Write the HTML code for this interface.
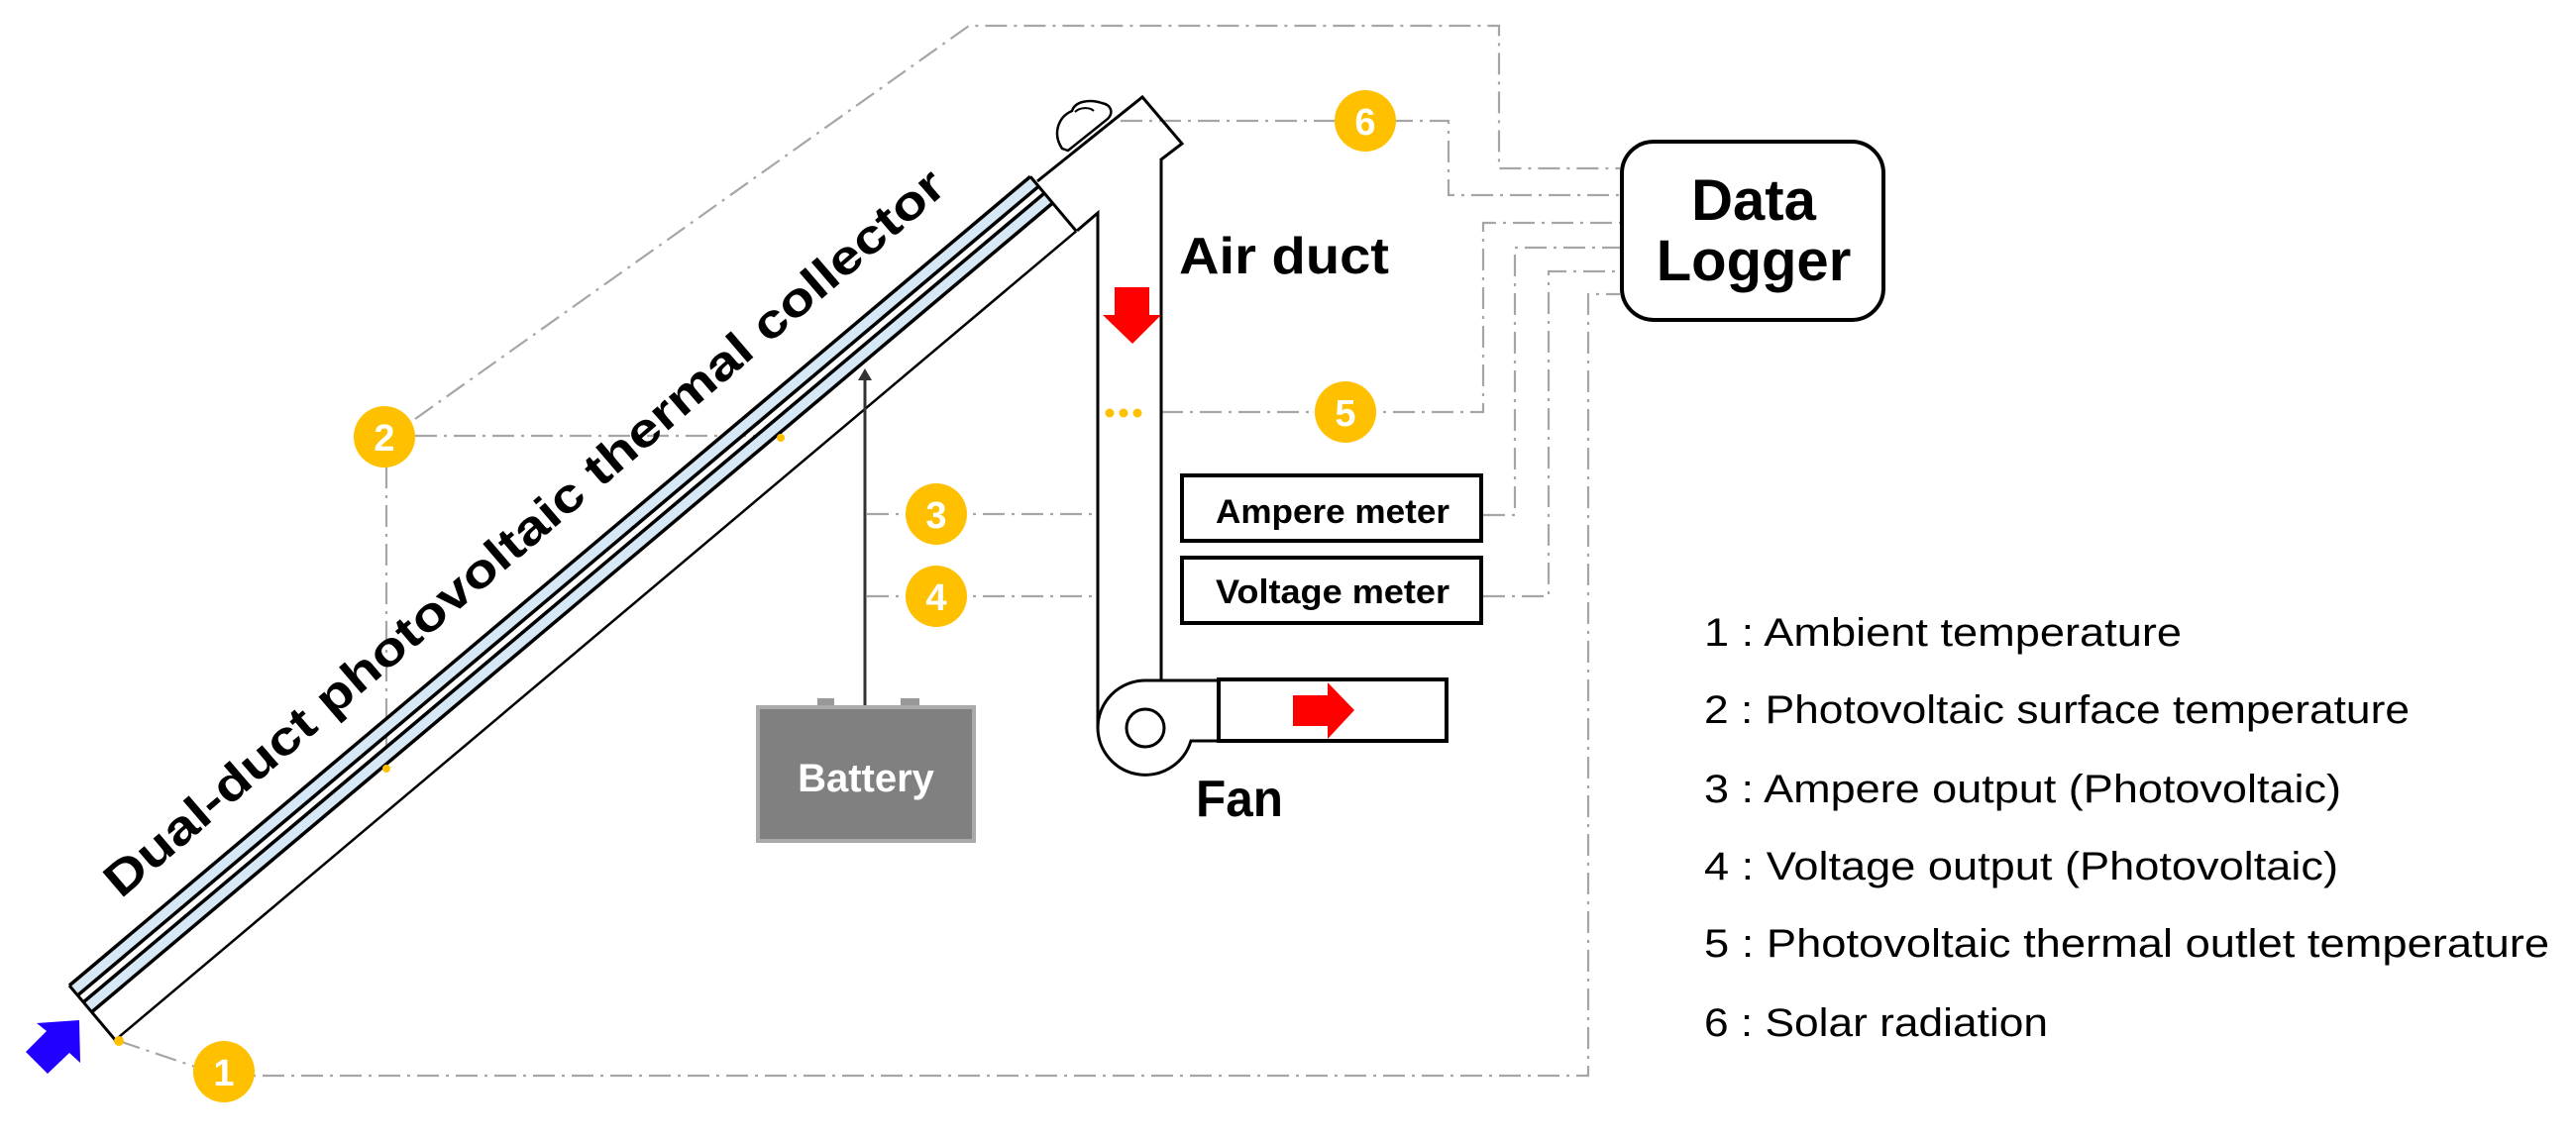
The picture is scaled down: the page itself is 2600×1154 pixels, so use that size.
<!DOCTYPE html>
<html><head><meta charset="utf-8"><style>
html,body{margin:0;padding:0;background:#fff}
svg{display:block}
text{font-family:"Liberation Sans",sans-serif}
</style></head><body>
<svg width="2600" height="1154" viewBox="0 0 2600 1154" xmlns="http://www.w3.org/2000/svg">
<g fill="none" stroke="#a6a6a6" stroke-width="2.2" stroke-dasharray="22 7 3 7">
  <polyline points="419,423 978,26 1513,26 1513,170 1635,170"/>
  <polyline points="1092,122 1462,122 1462,197 1635,197"/>
  <polyline points="1172,416 1497,416 1497,225 1635,225"/>
  <polyline points="1497,520 1529,520 1529,250 1635,250"/>
  <polyline points="1497,602 1563,602 1563,274 1635,274"/>
  <polyline points="226,1086 1603,1086 1603,297 1635,297"/>
  <line x1="120" y1="1051" x2="200" y2="1078"/>
  <line x1="419" y1="440" x2="788" y2="440"/>
  <line x1="390" y1="471" x2="390" y2="776"/>
  <line x1="875" y1="519" x2="1107" y2="519"/>
  <line x1="875" y1="602" x2="1107" y2="602"/>
</g>
<g transform="translate(70,995) rotate(-40.1)">
  <rect x="0" y="1.5" width="1268" height="11" fill="#d6e8f5"/>
  <rect x="0" y="23" width="1268" height="11" fill="#d6e8f5"/>
  <g stroke="#000" fill="none">
    <line x1="0" y1="0" x2="1268" y2="0" stroke-width="3.5"/>
    <line x1="0" y1="13" x2="1268" y2="13" stroke-width="3.5"/>
    <line x1="0" y1="22" x2="1268" y2="22" stroke-width="3.5"/>
    <line x1="0" y1="35" x2="1268" y2="35" stroke-width="3.5"/>
    <line x1="0" y1="72" x2="1268" y2="72" stroke-width="2.5"/>
    <line x1="0" y1="0" x2="0" y2="72" stroke-width="3"/>
    <line x1="1268" y1="0" x2="1268" y2="72" stroke-width="3"/>
  </g>
</g>
<g stroke="#000" stroke-width="3" fill="none">
  <polyline points="1047,183 1153,98 1193,145 1172,161 1172,687"/>
  <polyline points="1087,233 1108,215 1108,735"/>
  <path d="M1108,735 A48,48 0 0,0 1202,748 L1230,748"/>
  <path d="M1108,735 A48,48 0 0,1 1156,687 L1230,687"/>
  <rect x="1230" y="686" width="230" height="62" stroke-width="4"/>
  <circle cx="1156" cy="735" r="19"/>
  <path d="M1072,150 C1062,135 1068,118 1082,112 C1085,102 1100,100 1112,104 C1122,106 1124,114 1118,120 L1078,152 Z" stroke-width="2.5" fill="#fff"/>
  <path d="M1085,113 C1090,108 1100,108 1104,112" stroke-width="2"/>
</g>
<polygon points="1125,290 1160,290 1160,318 1172,318 1143,347 1113,318 1125,318" fill="#ff0000"/>
<polygon points="1305,702 1340,702 1340,689 1367,717 1340,746 1340,733 1305,733" fill="#ff0000"/>
<polygon points="80,1030 81,1073 70,1063 48,1084 26,1062 47,1041 37,1033" fill="#2200ff"/>
<line x1="873" y1="380" x2="873" y2="712" stroke="#333" stroke-width="3"/>
<polygon points="866,384 880,384 873,372" fill="#333"/>
<rect x="825" y="705" width="17" height="9" fill="#999"/>
<rect x="909" y="705" width="19" height="9" fill="#999"/>
<rect x="765" y="714" width="218" height="135" fill="#808080" stroke="#aaaaaa" stroke-width="4"/>
<text x="874" y="799" font-size="40" font-weight="bold" fill="#fff" text-anchor="middle">Battery</text>
<rect x="1193" y="480" width="302" height="66" fill="#fff" stroke="#000" stroke-width="4"/>
<text x="1345" y="528" font-size="34" font-weight="bold" text-anchor="middle" textLength="236" lengthAdjust="spacingAndGlyphs">Ampere meter</text>
<rect x="1193" y="563" width="302" height="66" fill="#fff" stroke="#000" stroke-width="4"/>
<text x="1345" y="609" font-size="34" font-weight="bold" text-anchor="middle" textLength="236" lengthAdjust="spacingAndGlyphs">Voltage meter</text>
<rect x="1637" y="143" width="264" height="180" rx="32" fill="#fff" stroke="#000" stroke-width="4"/>
<text x="1770" y="222" font-size="58" font-weight="bold" text-anchor="middle">Data</text>
<text x="1770" y="283" font-size="58" font-weight="bold" text-anchor="middle">Logger</text>
<text x="1190" y="276" font-size="52" font-weight="bold" textLength="212" lengthAdjust="spacingAndGlyphs">Air duct</text>
<text x="1207" y="824" font-size="52" font-weight="bold" textLength="88" lengthAdjust="spacingAndGlyphs">Fan</text>
<text transform="translate(122,908) rotate(-40.6)" font-size="48" font-weight="bold" textLength="1100" lengthAdjust="spacingAndGlyphs">Dual-duct photovoltaic thermal collector</text>
<g fill="#ffc000">
  <circle cx="120" cy="1051" r="5"/>
  <circle cx="788" cy="442" r="4"/>
  <circle cx="390" cy="776" r="4"/>
  <circle cx="1120" cy="417" r="4.5"/>
  <circle cx="1134" cy="417" r="4.5"/>
  <circle cx="1148" cy="417" r="4.5"/>
</g>
<g font-size="38" font-weight="bold" fill="#fff" text-anchor="middle">
  <circle cx="226" cy="1082" r="31" fill="#ffc000"/><text x="226" y="1096">1</text>
  <circle cx="388" cy="441" r="31" fill="#ffc000"/><text x="388" y="455">2</text>
  <circle cx="945" cy="519" r="31" fill="#ffc000"/><text x="945" y="533">3</text>
  <circle cx="945" cy="602" r="31" fill="#ffc000"/><text x="945" y="616">4</text>
  <circle cx="1358" cy="416" r="31" fill="#ffc000"/><text x="1358" y="430">5</text>
  <circle cx="1378" cy="122" r="31" fill="#ffc000"/><text x="1378" y="136">6</text>
</g>
<g font-size="40" fill="#000">
  <text x="1720" y="652" textLength="482" lengthAdjust="spacingAndGlyphs">1 : Ambient temperature</text>
  <text x="1720" y="730" textLength="712" lengthAdjust="spacingAndGlyphs">2 : Photovoltaic surface temperature</text>
  <text x="1720" y="810" textLength="643" lengthAdjust="spacingAndGlyphs">3 : Ampere output (Photovoltaic)</text>
  <text x="1720" y="888" textLength="640" lengthAdjust="spacingAndGlyphs">4 : Voltage output (Photovoltaic)</text>
  <text x="1720" y="966" textLength="853" lengthAdjust="spacingAndGlyphs">5 : Photovoltaic thermal outlet temperature</text>
  <text x="1720" y="1046" textLength="347" lengthAdjust="spacingAndGlyphs">6 : Solar radiation</text>
</g>
</svg>
</body></html>
